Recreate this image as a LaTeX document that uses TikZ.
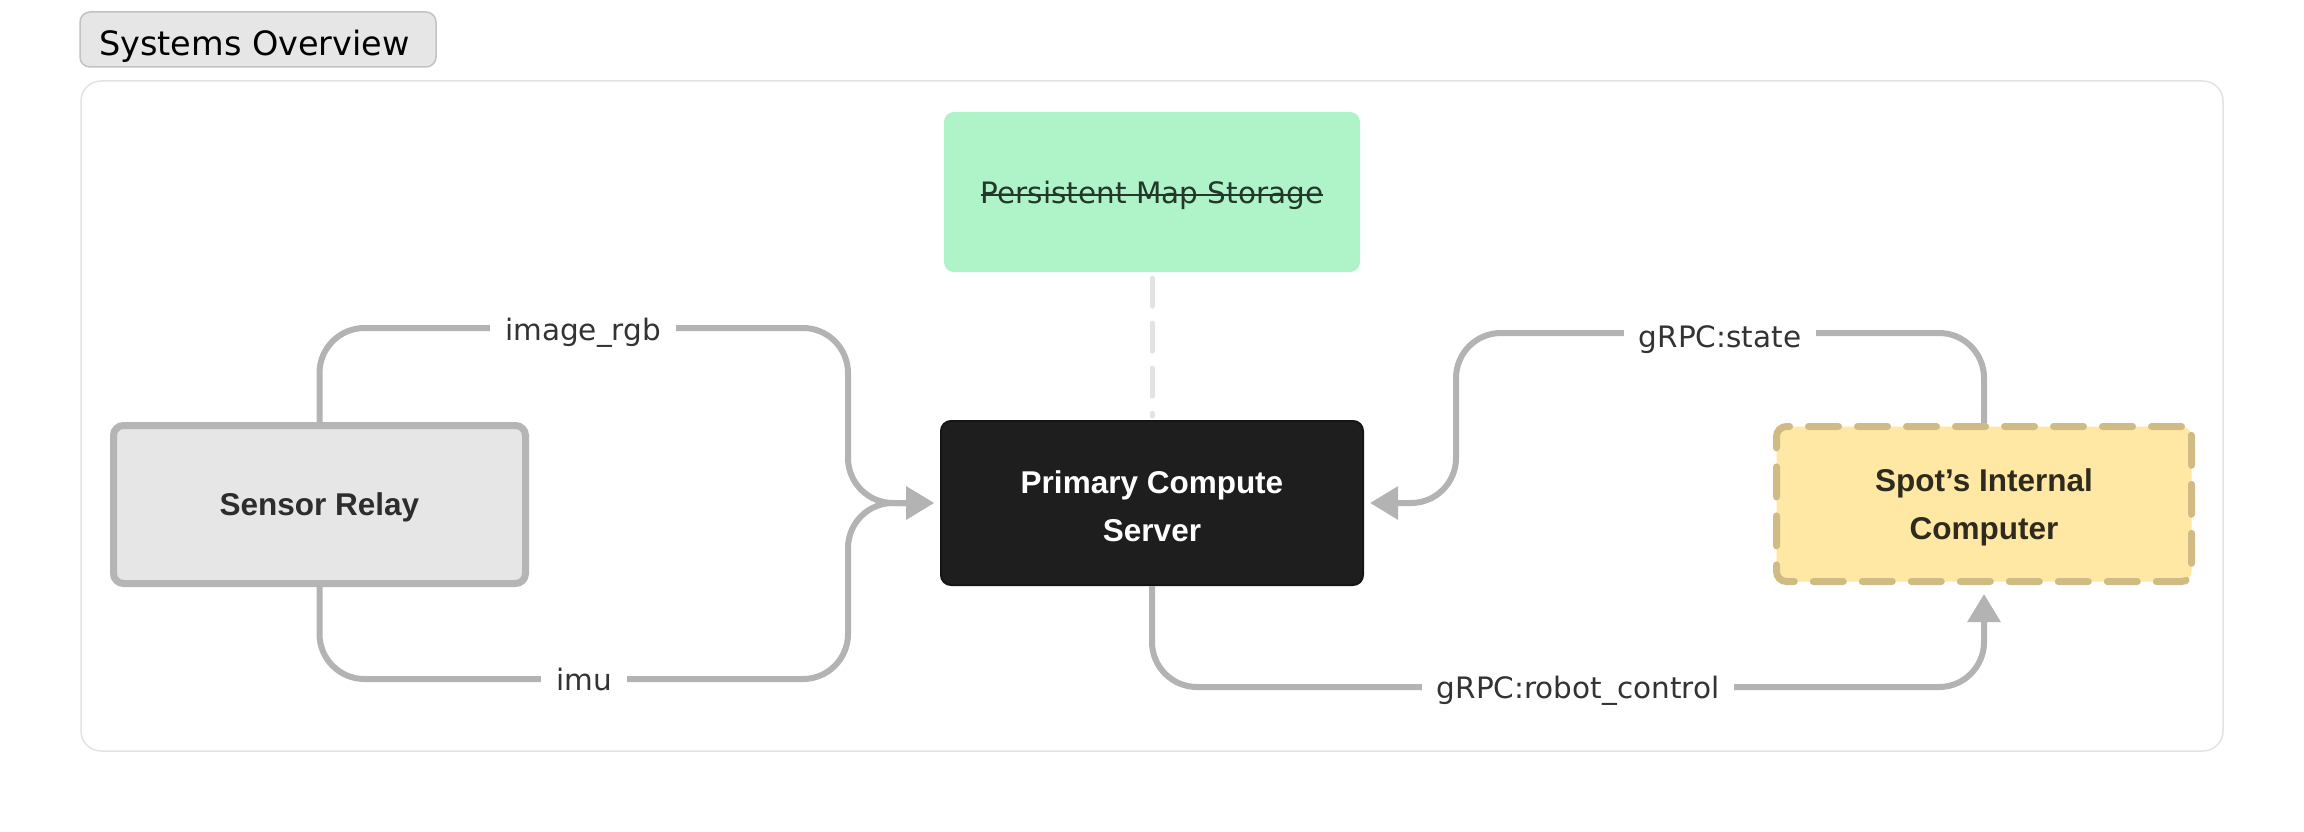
\documentclass[tikz,border=0pt]{standalone}
\usepackage{fontspec}
\setmainfont{DejaVu Sans}
\newfontfamily\nodefam{Liberation Sans}
\usetikzlibrary{arrows.meta}
\definecolor{edgegray}{HTML}{B3B3B3}
\definecolor{framegray}{HTML}{E3E3E3}
\definecolor{titlefill}{HTML}{E6E6E6}
\definecolor{titleborder}{HTML}{C2C2C2}
\definecolor{pmsgreen}{HTML}{AFF4C8}
\definecolor{pmstext}{HTML}{23372B}
\definecolor{primdark}{HTML}{1E1E1E}
\definecolor{primborder}{HTML}{151515}
\definecolor{srfill}{HTML}{E6E6E6}
\definecolor{srborder}{HTML}{B5B5B5}
\definecolor{srtext}{HTML}{2D2D2D}
\definecolor{spotfill}{HTML}{FFE8A3}
\definecolor{spotborder}{HTML}{D1BB84}
\definecolor{spottext}{HTML}{2F2A1E}
\definecolor{labtext}{HTML}{333333}
\definecolor{dashgray}{HTML}{E3E3E3}
\newcommand\mylab{\fontsize{29.5}{36}\selectfont}
\newcommand\mytitlefont{\fontsize{33.5}{40}\selectfont}
\newcommand\mynode{\nodefam\bfseries\fontsize{31.5}{48}\selectfont}
\begin{document}
\begin{tikzpicture}[x=1pt,y=-1pt,
  edge/.style={draw=edgegray, line width=6pt, rounded corners=45pt},
  tip/.style={-{Triangle[length=28pt,width=32pt]}},
  lbl/.style={fill=white, text=labtext, font=\mylab, inner xsep=15pt, inner ysep=2pt},
  nodetext/.style={font=\mynode, align=center, inner sep=0pt}
]
\useasboundingbox (0,0) rectangle (2304,832);
\fill[white] (0,0) rectangle (2304,832);

% title
\node[draw=titleborder, fill=titlefill, line width=1.5pt, rounded corners=10pt,
      minimum width=356pt, minimum height=55pt, inner sep=0pt] (titlebox) at (258,39.5) {};
\node[anchor=base west, font=\mytitlefont, text=black, inner sep=0pt] (titletext) at (99,56) {Systems Overview};

% outer frame
\node[draw=framegray, line width=1.5pt, rounded corners=20pt,
      minimum width=2142pt, minimum height=670pt, inner sep=0pt] (frame) at (1152,416) {};

% nodes
\node[fill=pmsgreen, rounded corners=10pt, minimum width=416pt, minimum height=160pt, inner sep=0pt] (pms) at (1152,192) {};
\node[font=\mylab, text=pmstext, inner sep=0pt] (pmstxt) at (1152,195) {Persistent Map Storage};
\draw[pmstext, line width=2pt] (pmstxt.west) -- (pmstxt.east);

\node[fill=primdark, draw=primborder, line width=2pt, rounded corners=10pt,
      minimum width=422pt, minimum height=164pt, inner sep=0pt] (primary) at (1152,503) {};
\node[nodetext, text=white] (primarytxt) at (1152,506) {Primary Compute\\Server};

\node[fill=srfill, draw=srborder, line width=7pt, rounded corners=10pt,
      minimum width=412pt, minimum height=158pt, inner sep=0pt] (sensor) at (319.5,504.5) {};
\node[nodetext, text=srtext] (sensortxt) at (319.5,507.5) {Sensor Relay};

\node[fill=spotfill, draw=spotborder, line width=7pt, rounded corners=10pt,
      line cap=round, dash pattern=on 30pt off 19pt,
      minimum width=415pt, minimum height=155pt, inner sep=0pt] (spot) at (1984,504) {};
\node[nodetext, text=spottext] (spottxt) at (1984,507) {Spot’s Internal\\Computer};

% dashed link
\draw[dashgray, line width=5pt, line cap=round, dash pattern=on 28pt off 17pt,
      shorten <=6pt, shorten >=4pt] (pms.south) -- (primary.north);

% bend points
\coordinate (imgc) at (848,328);
\coordinate (imuc) at (848,679);
\coordinate (statec) at (1456,333);
\coordinate (rcc) at (1984,687);

% edges
\draw[edge, tip, shorten >=6pt] (sensor.north) |- (imgc) |- (primary.west);
\draw[edge, tip, shorten >=6pt] (sensor.south) |- (imuc) |- (primary.west);
\draw[edge, tip, shorten >=6pt] (spot.north) |- (statec) |- (primary.east);
\draw[edge, tip, shorten >=9pt] (primary.south) |- (rcc) -- (spot.south);

% labels
\node[lbl] (limg) at (583,333) {image\_rgb};
\node[lbl] (limu) at (584,679) {imu};
\node[lbl] (lstate) at (1720,340) {gRPC:state};
\node[lbl] (lrc) at (1578,691) {gRPC:robot\_control};
\end{tikzpicture}
\end{document}
